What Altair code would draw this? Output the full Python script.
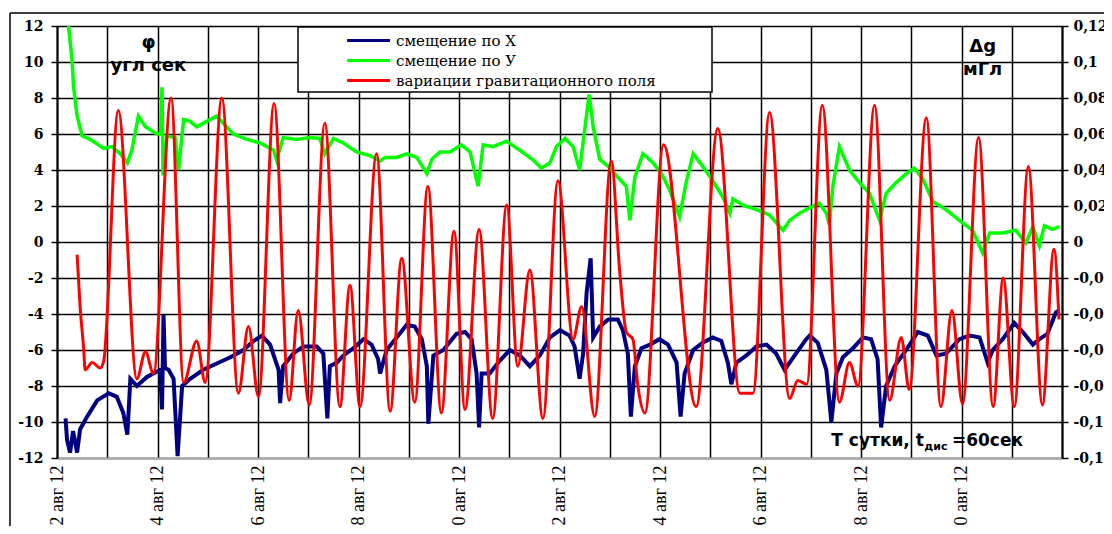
import altair as alt
import pandas as pd

# ---------------- data ----------------
# time in days since 12 Aug 2012 00:00
blue_days = [0.17, 0.20, 0.26, 0.32, 0.40, 0.46, 0.60, 0.80, 1.03, 1.19,
             1.32, 1.40, 1.46, 1.59, 1.79, 1.99, 2.05, 2.09, 2.12, 2.15,
             2.22, 2.32, 2.40, 2.49, 2.65, 2.91, 3.18, 3.45, 3.71, 3.91,
             4.08, 4.24, 4.41, 4.44, 4.50, 4.70, 4.90, 5.04, 5.17, 5.30,
             5.38, 5.43, 5.57, 5.70, 5.90, 6.10, 6.26, 6.39, 6.43, 6.56,
             6.76, 6.96, 7.12, 7.26, 7.36, 7.39, 7.49, 7.69, 7.95, 8.12,
             8.25, 8.35, 8.40, 8.45, 8.61, 8.81, 9.01, 9.21, 9.41, 9.61,
             9.81, 10.01, 10.20, 10.30, 10.40, 10.47, 10.54, 10.62, 10.67, 10.80,
             10.97, 11.16, 11.26, 11.36, 11.42, 11.50, 11.63, 11.80, 11.99, 12.16,
             12.33, 12.41, 12.49, 12.66, 12.85, 13.05, 13.22, 13.35, 13.42, 13.52,
             13.72, 13.92, 14.12, 14.31, 14.48, 14.68, 14.91, 14.98, 15.14, 15.31,
             15.41, 15.51, 15.64, 15.84, 16.04, 16.20, 16.33, 16.40, 16.50, 16.67,
             16.90, 17.13, 17.33, 17.50, 17.69, 17.96, 18.16, 18.36, 18.52, 18.62,
             18.82, 19.05, 19.22, 19.42, 19.55, 19.71, 19.88, 19.95]
blue_vals = [-9.8, -11.0, -11.7, -10.5, -11.7, -10.4, -9.7, -8.8, -8.4, -8.6,
             -9.5, -10.7, -7.6, -8.0, -7.5, -7.2, -7.1, -9.3, -4.05, -7.0,
             -7.1, -7.6, -11.9, -8.0, -7.6, -7.1, -6.75, -6.4, -6.0, -5.5,
             -5.2, -5.7, -7.1, -8.95, -6.9, -6.2, -5.8, -5.8, -5.8, -6.2,
             -9.8, -6.9, -6.7, -6.3, -5.9, -5.4, -5.7, -6.5, -7.3, -6.0,
             -5.3, -4.6, -4.7, -5.4, -6.9, -10.1, -6.3, -6.0, -5.1, -5.0,
             -5.4, -7.3, -10.3, -7.3, -7.3, -6.6, -6.0, -6.3, -6.9, -6.3,
             -5.3, -4.9, -5.2, -5.8, -7.6, -6.2, -2.8, -0.9, -5.3, -4.7,
             -4.3, -4.3, -4.9, -6.2, -9.7, -6.9, -5.9, -5.7, -5.4, -5.7,
             -6.7, -9.7, -7.3, -6.0, -5.6, -5.3, -5.5, -6.7, -7.9, -6.7,
             -6.3, -5.8, -5.7, -6.2, -7.1, -6.3, -5.4, -5.2, -5.6, -7.1,
             -10.0, -7.3, -6.4, -5.9, -5.3, -5.4, -6.5, -10.3, -8.0, -6.9,
             -6.0, -5.0, -5.2, -6.3, -6.2, -5.4, -5.2, -5.3, -6.7, -6.0,
             -5.4, -4.5, -5.0, -5.7, -5.4, -5.1, -3.9, -3.8]

green_days = [0.23, 0.30, 0.33, 0.40, 0.50, 0.66, 0.93, 1.09, 1.26, 1.40,
              1.49, 1.62, 1.76, 1.99, 2.06, 2.09, 2.11, 2.19, 2.35, 2.42,
              2.52, 2.65, 2.78, 2.98, 3.18, 3.31, 3.51, 3.78, 4.04, 4.31,
              4.37, 4.50, 4.77, 5.04, 5.23, 5.33, 5.50, 5.70, 5.96, 6.23,
              6.43, 6.53, 6.76, 6.96, 7.16, 7.36, 7.46, 7.62, 7.82, 8.05,
              8.22, 8.38, 8.48, 8.68, 8.95, 9.21, 9.48, 9.64, 9.81, 9.94,
              10.11, 10.27, 10.40, 10.50, 10.59, 10.67, 10.80, 10.97, 11.16, 11.33,
              11.40, 11.50, 11.66, 11.86, 12.03, 12.19, 12.39, 12.52, 12.66, 12.85,
              13.05, 13.25, 13.39, 13.45, 13.65, 13.92, 14.18, 14.45, 14.58, 14.78,
              14.98, 15.17, 15.31, 15.37, 15.44, 15.57, 15.77, 15.97, 16.17, 16.37,
              16.50, 16.70, 16.90, 17.06, 17.23, 17.43, 17.69, 17.96, 18.22, 18.42,
              18.56, 18.82, 19.08, 19.28, 19.42, 19.55, 19.65, 19.81, 19.95]
green_vals = [12.0, 10.1, 8.6, 7.0, 5.9, 5.7, 5.2, 5.3, 4.9, 4.4,
              5.1, 7.0, 6.4, 6.0, 6.0, 8.6, 3.7, 5.9, 5.8, 4.0,
              6.8, 6.7, 6.4, 6.7, 7.0, 6.6, 6.0, 5.7, 5.5, 5.1,
              4.55, 5.8, 5.7, 5.8, 5.75, 4.9, 5.75, 5.5, 5.0, 4.8,
              4.5, 4.7, 4.7, 4.9, 4.7, 3.8, 4.6, 5.0, 5.0, 5.4,
              5.0, 3.1, 5.4, 5.3, 5.6, 5.1, 4.55, 4.1, 4.4, 5.3,
              5.75, 5.3, 4.0, 6.2, 8.2, 6.4, 4.6, 4.2, 3.6, 3.1,
              1.2, 3.6, 4.9, 4.4, 3.8, 2.9, 1.4, 3.3, 4.9, 4.2,
              3.4, 2.5, 1.6, 2.4, 2.05, 1.8, 1.5, 0.65, 1.2, 1.6,
              1.9, 2.15, 1.6, 0.95, 3.1, 5.3, 4.0, 3.3, 2.7, 1.2,
              2.7, 3.3, 3.8, 4.1, 3.5, 2.25, 1.8, 1.2, 0.65, -0.6,
              0.5, 0.5, 0.65, -0.05, 0.85, -0.2, 0.9, 0.7, 0.85]

red_days = [0.40, 0.46, 0.53, 0.56, 0.70, 0.86, 0.93,
            1.22, 1.59, 1.76, 1.92,
            2.27, 2.52, 2.78, 2.95,
            3.28, 3.61, 3.81, 4.01,
            4.32, 4.62, 4.80, 5.02,
            5.33, 5.63, 5.83, 6.03,
            6.36, 6.63, 6.86, 7.12,
            7.38, 7.65, 7.90, 8.12,
            8.40, 8.67, 8.95, 9.17,
            9.41, 9.67, 9.97, 10.27,
            10.44, 10.70, 11.03, 11.20,
            11.33, 11.46, 11.56, 11.70,
            12.07, 12.72, 13.15, 13.59,
            13.85, 14.18, 14.58, 14.74,
            14.92, 15.23, 15.57, 15.77,
            15.94, 16.27, 16.57, 16.80,
            16.96, 17.30, 17.59, 17.81,
            18.02, 18.34, 18.63, 18.83,
            19.05, 19.33, 19.61, 19.84, 19.94]
red_vals = [-0.007, -0.036, -0.059, -0.071, -0.067, -0.070, -0.066,
            0.073, -0.076, -0.061, -0.073,
            0.080, -0.078, -0.055, -0.078,
            0.080, -0.084, -0.047, -0.086,
            0.077, -0.088, -0.038, -0.0905,
            0.066, -0.0915, -0.024, -0.0915,
            0.049, -0.094, -0.009, -0.089,
            0.031, -0.095, 0.006, -0.093,
            0.007, -0.098, 0.0205, -0.069,
            -0.0155, -0.098, 0.034, -0.054,
            -0.036, -0.097, 0.045, -0.017,
            -0.050, -0.054, -0.080, -0.095,
            0.054, -0.0915, 0.063, -0.084,
            -0.084, 0.072, -0.087, -0.077,
            -0.079, 0.076, -0.089, -0.067,
            -0.080, 0.076, -0.088, -0.053,
            -0.082, 0.069, -0.0915, -0.038,
            -0.090, 0.058, -0.0915, -0.020,
            -0.0915, 0.042, -0.0905, -0.004, -0.043]

series_names = ["смещение по Х", "смещение по У", "вариации гравитационного поля"]
series_colors = ["#000080", "#00ff00", "#ff0000"]

left_ticks = [-12, -10, -8, -6, -4, -2, 0, 2, 4, 6, 8, 10, 12]
right_ticks = [-0.12, -0.1, -0.08, -0.06, -0.04, -0.02, 0, 0.02, 0.04, 0.06, 0.08, 0.1, 0.12]
day_ticks = list(range(0, 21))
date_labels = ["12 авг 12", "14 авг 12", "16 авг 12", "18 авг 12", "20 авг 12",
               "22 авг 12", "24 авг 12", "26 авг 12", "28 авг 12", "30 авг 12"]

ann_big_text = ["φ", "угл сек", "Δg", "мГл"]
ann_big_day = [1.82, 1.82, 18.42, 18.42]
ann_big_val = [11.05, 9.8, 10.83, 9.56]

ann_t_text = ["Т сутки, t", "=60сек"]
ann_t_day = [15.41, 17.81]
ann_t_val = [-11.03, -11.03]
ann_sub_text = ["дис"]
ann_sub_day = [17.26]
ann_sub_val = [-11.38]

assert len(blue_days) == len(blue_vals)
assert len(green_days) == len(green_vals)
assert len(red_days) == len(red_vals)

df_blue = pd.DataFrame({"d": blue_days, "v": blue_vals, "s": series_names[0]})
df_green = pd.DataFrame({"d": green_days, "v": green_vals, "s": series_names[1]})
df_red = pd.DataFrame({"d": red_days, "g": red_vals, "s": series_names[2]})
df_big = pd.DataFrame({"d": ann_big_day, "v": ann_big_val, "t": ann_big_text})
df_t = pd.DataFrame({"d": ann_t_day, "v": ann_t_val, "t": ann_t_text})
df_sub = pd.DataFrame({"d": ann_sub_day, "v": ann_sub_val, "t": ann_sub_text})
df_one = pd.DataFrame({"k": [0]})

# ---------------- axes ----------------
expr = "''"
for i in range(len(date_labels) - 1, -1, -1):
    expr = f"datum.value == {2 * i} ? '{date_labels[i]}' : ({expr})"

x_axis = alt.Axis(values=day_ticks, grid=True, gridColor="#000000", gridWidth=1.5, gridOpacity=1,
                  ticks=False, domainColor="#a8a8a8", domainWidth=2, labelAngle=270,
                  labelExpr=expr, labelFont="Liberation Serif", labelFontSize=18,
                  labelColor="#000000", labelPadding=7, labelOverlap=False, labelFlush=False,
                  title=None)
x_enc = alt.X("d:Q", scale=alt.Scale(domain=[0, 20], nice=False, zero=False), axis=x_axis)

yl_axis = alt.Axis(values=left_ticks, grid=True, gridColor="#000000", gridWidth=1.5, gridOpacity=1,
                   domainColor="#000000", domainWidth=2, tickColor="#000000", tickSize=6, tickWidth=1.5,
                   labelExpr="toString(datum.value)", labelFont="DejaVu Serif", labelFontWeight="bold",
                   labelFontSize=14, labelColor="#000000", labelPadding=8, title=None)
yl_enc = alt.Y("v:Q", scale=alt.Scale(domain=[-12, 12], nice=False, zero=False), axis=yl_axis)

yr_axis = alt.Axis(orient="right", values=right_ticks, grid=False, domainColor="#000000", domainWidth=2,
                   tickColor="#000000", tickSize=6, tickWidth=1.5,
                   labelExpr="replace(toString(datum.value), '.', ',')", labelFont="DejaVu Serif",
                   labelFontWeight="bold", labelFontSize=14, labelColor="#000000", labelPadding=5,
                   title=None)
yr_enc = alt.Y("g:Q", scale=alt.Scale(domain=[-0.12, 0.12], nice=False, zero=False), axis=yr_axis)

legend = alt.Legend(orient="none", legendX=284, legendY=3, title=None, symbolType="M-1,0H7",
                    symbolSize=115.6, symbolStrokeWidth=3, labelOffset=36, labelFont="DejaVu Serif",
                    labelFontSize=15, labelColor="#000000", rowPadding=4, padding=4,
                    direction="vertical", labelLimit=400)
color_enc = alt.Color("s:N", scale=alt.Scale(domain=series_names, range=series_colors), legend=legend)

# ---------------- layers ----------------
frame_left = alt.Chart(df_one).mark_rule(color="#000000", strokeWidth=1.5).encode(
    x=alt.value(-47), y=alt.value(-13), y2=alt.value(600))
frame_top = alt.Chart(df_one).mark_rule(color="#000000", strokeWidth=1.5).encode(
    x=alt.value(-47), x2=alt.value(1200), y=alt.value(-13))

blue = alt.Chart(df_blue).mark_line(strokeWidth=4, clip=True).encode(x=x_enc, y=yl_enc, color=color_enc)
green = alt.Chart(df_green).mark_line(strokeWidth=3.5, clip=True).encode(x=x_enc, y=yl_enc, color=color_enc)

big_txt = alt.Chart(df_big).mark_text(font="DejaVu Sans", fontWeight="bold", fontSize=18,
                                      align="center", baseline="middle", color="#000000").encode(
    x=x_enc, y=yl_enc, text="t:N")
t_txt = alt.Chart(df_t).mark_text(font="DejaVu Sans", fontWeight="bold", fontSize=17,
                                  align="left", baseline="middle", color="#000000").encode(
    x=x_enc, y=yl_enc, text="t:N")
sub_txt = alt.Chart(df_sub).mark_text(font="DejaVu Sans", fontWeight="bold", fontSize=11,
                                      align="left", baseline="middle", color="#000000").encode(
    x=x_enc, y=yl_enc, text="t:N")

left_group = alt.layer(frame_left, frame_top, blue, green, big_txt, t_txt, sub_txt)

red = alt.Chart(df_red).mark_line(strokeWidth=3, interpolate="monotone", clip=True).encode(
    x=x_enc, y=yr_enc, color=color_enc)

legend_box = alt.Chart(df_one).mark_rect(fill="#ffffff", stroke="#000000", strokeWidth=1.5).encode(
    x=alt.value(241), x2=alt.value(655), y=alt.value(1), y2=alt.value(66))

chart = alt.layer(left_group, red, legend_box).resolve_scale(y="independent").properties(
    width=1005, height=432,
    padding={"left": 49, "top": 18, "right": 42, "bottom": 68},
    autosize=alt.AutoSizeParams(type="none"),
    background="#ffffff",
).configure_view(stroke=None)

chart.save("out.html", embed_options={"renderer": "svg", "actions": False})
